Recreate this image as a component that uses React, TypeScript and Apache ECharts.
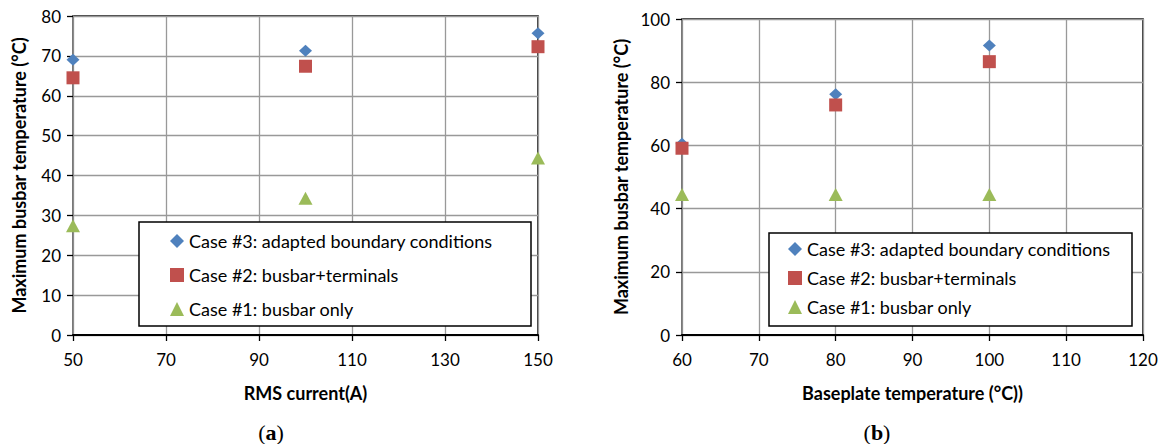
import React, { useEffect, useRef } from "react";
import * as echarts from "echarts";

const seriesNames = [
  "Case #3: adapted boundary conditions",
  "Case #2: busbar+terminals",
  "Case #1: busbar only",
];

// Panel (a): RMS current (A)
const currentA = [50, 100, 150];
const case3A = [69, 71.3, 75.7];
const case2A = [64.5, 67.4, 72.3];
const case1A = [27.4, 34.3, 44.4];

// Panel (b): Baseplate temperature (°C)
const baseB = [60, 80, 100];
const case3B = [60.5, 76.2, 91.6];
const case2B = [59.1, 72.8, 86.5];
const case1B = [44.5, 44.5, 44.5];

const colors = { c3: "#4F81BD", c2: "#C0504D", c1: "#9BBB59" };
const FONT = "Lato";

function pairs(xs: number[], ys: number[]) {
  return xs.map((x, i) => [x, ys[i]]);
}

export default function App() {
  const ref = useRef<HTMLDivElement>(null);
  useEffect(() => {
    if (!ref.current) return;
    const chart = echarts.init(ref.current, undefined, { renderer: "svg" });

    const axisLabel = { color: "#000", fontFamily: FONT, fontSize: 17 };
    const nameStyle = { color: "#000", fontFamily: FONT, fontSize: 18, fontWeight: "bold" as const };
    const split = { show: true, lineStyle: { color: "#999", width: 1.3 } };

    const xAxisBase = (gi: number, min: number, max: number, interval: number, name: string) => ({
      type: "value",
      gridIndex: gi,
      min,
      max,
      interval,
      name,
      nameLocation: "middle",
      nameGap: 49,
      nameTextStyle: nameStyle,
      axisLine: { show: true, onZero: false, lineStyle: { color: "#000", width: 2 } },
      axisTick: { show: true, length: 6, lineStyle: { color: "#000", width: 1.3 } },
      axisLabel: { ...axisLabel, margin: 16 },
      splitLine: split,
    });
    const yAxisBase = (gi: number, max: number, interval: number, gap: number) => ({
      type: "value",
      gridIndex: gi,
      min: 0,
      max,
      interval,
      name: "Maximum busbar temperature (°C)",
      nameLocation: "middle",
      nameGap: gap,
      nameTextStyle: nameStyle,
      axisLine: { show: true, onZero: false, lineStyle: { color: "#888", width: 1.5 } },
      axisTick: { show: true, length: 6, lineStyle: { color: "#000", width: 1.3 } },
      axisLabel: { ...axisLabel, margin: 12 },
      splitLine: split,
    });

    const mk = (name: string, gi: number, data: number[][], symbol: string, size: any, color: string) => ({
      type: "scatter",
      name,
      xAxisIndex: gi,
      yAxisIndex: gi,
      data,
      symbol,
      symbolSize: size,
      itemStyle: { color, opacity: 1 },
      z: 5,
    });

    const legendData = [
      { name: seriesNames[0], icon: "diamond" },
      { name: seriesNames[1], icon: "rect" },
      { name: seriesNames[2], icon: "triangle" },
    ];
    const legendText = { color: "#000", fontFamily: FONT, fontSize: 18 };

    const label = (letter: string, x: number) => ({
      type: "text",
      x,
      y: 432,
      z: 10,
      style: {
        text: `{p|(}{b|${letter}}{p|)}`,
        align: "center",
        verticalAlign: "middle",
        rich: {
          p: { fontFamily: "Liberation Serif", fontSize: 22, fill: "#000" },
          b: { fontFamily: "Liberation Serif", fontSize: 22, fontWeight: "bold", fill: "#000" },
        },
      },
    });

    chart.setOption({
      animation: false,
      backgroundColor: "#fff",
      grid: [
        { left: 73, right: 631, top: 16, bottom: 109, show: true, borderColor: "#000", borderWidth: 1.5 },
        { left: 682, right: 26, top: 19, bottom: 109, show: true, borderColor: "#000", borderWidth: 1.5 },
      ],
      xAxis: [
        xAxisBase(0, 50, 150, 20, "RMS current(A)"),
        xAxisBase(1, 60, 120, 10, "Baseplate temperature (°C))"),
      ],
      yAxis: [yAxisBase(0, 80, 10, 45), yAxisBase(1, 100, 20, 52)],
      legend: [
        {
          orient: "vertical",
          left: 170,
          top: 232,
          itemWidth: 14,
          itemHeight: 14,
          itemGap: 16,
          padding: 0,
          data: legendData,
          textStyle: legendText,
          selectedMode: false,
          z: 20,
        },
        {
          orient: "vertical",
          left: 788,
          top: 240,
          itemWidth: 14,
          itemHeight: 14,
          itemGap: 11,
          padding: 0,
          data: legendData,
          textStyle: legendText,
          selectedMode: false,
          z: 20,
        },
      ],
      graphic: [
        {
          type: "rect",
          z: 15,
          shape: { x: 139, y: 222, width: 392, height: 104 },
          style: { fill: "#fff", stroke: "#000", lineWidth: 1.5 },
        },
        {
          type: "rect",
          z: 15,
          shape: { x: 769, y: 233, width: 363, height: 93 },
          style: { fill: "#fff", stroke: "#000", lineWidth: 1.5 },
        },
        label("a", 271),
        label("b", 877),
      ],
      series: [
        mk(seriesNames[2], 0, pairs(currentA, case1A), "triangle", [14, 13], colors.c1),
        mk(seriesNames[0], 0, pairs(currentA, case3A), "diamond", [13, 12], colors.c3),
        mk(seriesNames[1], 0, pairs(currentA, case2A), "rect", [13, 13], colors.c2),
        mk(seriesNames[2], 1, pairs(baseB, case1B), "triangle", [14, 13], colors.c1),
        mk(seriesNames[0], 1, pairs(baseB, case3B), "diamond", [13, 12], colors.c3),
        mk(seriesNames[1], 1, pairs(baseB, case2B), "rect", [13, 13], colors.c2),
      ],
    });
    return () => chart.dispose();
  }, []);
  return (
    <div
      ref={ref}
      style={{ position: "fixed", left: 0, top: 0, width: 1169, height: 444, background: "#fff" }}
    />
  );
}
